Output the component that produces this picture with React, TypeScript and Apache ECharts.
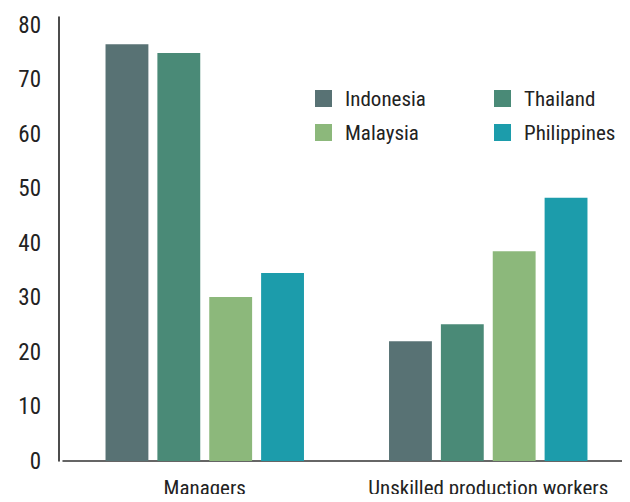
import React, { useEffect, useRef } from "react";
import * as echarts from "echarts";

const categories = ["Managers", "Unskilled production workers"];
const indonesia = [76.5, 22.0];
const thailand = [74.9, 25.1];
const malaysia = [30.1, 38.5];
const philippines = [34.5, 48.3];
const yTicks = [0, 10, 20, 30, 40, 50, 60, 70, 80];

const FONT = "'Roboto Condensed', 'DejaVu Sans Condensed', sans-serif";
const COLORS = ["#587274", "#4a8a77", "#8cb87b", "#1c9cab"];

export default function App() {
  const ref = useRef<HTMLDivElement>(null);
  useEffect(() => {
    const chart = echarts.init(ref.current!, null, { renderer: "svg" });
    const mk = (name: string, data: number[], color: string) => ({
      name,
      type: "bar",
      data,
      barGap: "21%",
      barCategoryGap: "30%",
      itemStyle: { color },
    });
    const legendText = {
      fontFamily: FONT,
      fontSize: 21,
      fontWeight: 400,
      color: "#222",
      padding: [0, 0, 0, 8],
    };
    chart.setOption({
      animation: false,
      textStyle: { fontFamily: FONT },
      grid: { left: 63, right: -1, top: 17, bottom: 41 },
      legend: [
        {
          data: ["Indonesia", "Malaysia"],
          orient: "vertical",
          left: 315,
          top: 88,
          itemWidth: 17,
          itemHeight: 17,
          itemGap: 13,
          icon: "rect",
          padding: 0,
          textStyle: legendText,
        },
        {
          data: ["Thailand", "Philippines"],
          orient: "vertical",
          left: 494,
          top: 88,
          itemWidth: 17,
          itemHeight: 17,
          itemGap: 13,
          icon: "rect",
          padding: 0,
          textStyle: legendText,
        },
      ],
      xAxis: {
        type: "category",
        data: categories,
        axisLine: { lineStyle: { color: "#333", width: 1.5 } },
        axisTick: { show: false },
        axisLabel: {
          fontFamily: FONT,
          fontSize: 21,
          fontWeight: 400,
          color: "#222",
          margin: 16,
          interval: 0,
        },
      },
      yAxis: {
        type: "value",
        min: 0,
        max: 81.5,
        interval: 10,
        offset: 4,
        axisLine: { show: true, lineStyle: { color: "#111", width: 1.5 } },
        axisTick: { show: false },
        splitLine: { show: false },
        axisLabel: {
          fontFamily: FONT,
          fontSize: 23,
          fontWeight: 400,
          color: "#222",
          margin: 18,
          showMaxLabel: false,
          formatter: (v: number) => (yTicks.includes(v) ? String(v) : ""),
        },
      },
      series: [
        mk("Indonesia", indonesia, COLORS[0]),
        mk("Thailand", thailand, COLORS[1]),
        mk("Malaysia", malaysia, COLORS[2]),
        mk("Philippines", philippines, COLORS[3]),
      ],
    });
    return () => chart.dispose();
  }, []);
  return <div ref={ref} style={{ width: 630, height: 502, margin: -8 }} />;
}
